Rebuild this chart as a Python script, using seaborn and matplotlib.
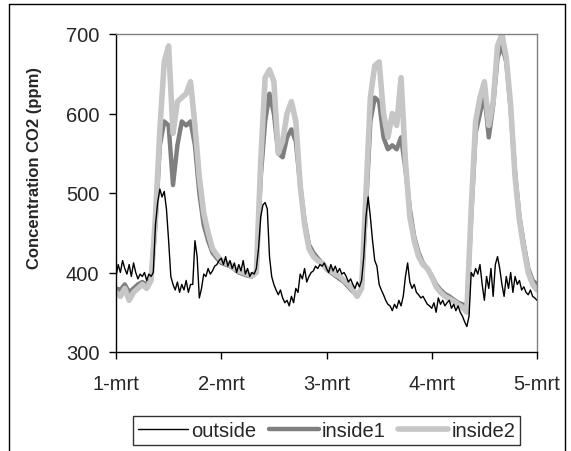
import numpy as np
import pandas as pd
import matplotlib
matplotlib.use("Agg")
import matplotlib.pyplot as plt
import seaborn as sns
from matplotlib.lines import Line2D

# ---- data ----
tick_labels = ["1-mrt", "2-mrt", "3-mrt", "4-mrt", "5-mrt"]
y_ticks = [300, 400, 500, 600, 700]

# hourly values, hour 0 .. 96
inside1 = [380, 378, 385, 375, 380, 385, 388, 385, 392, 460, 560, 590, 585, 510, 560, 590, 585, 590, 560, 500, 460, 440, 425, 418,
           412, 410, 408, 404, 400, 398, 396, 395, 400, 520, 590, 625, 600, 550, 545, 570, 580, 565, 510, 465, 435, 425, 418, 412,
           404, 400, 396, 392, 388, 382, 376, 372, 380, 480, 590, 620, 615, 570, 555, 560, 555, 570, 530, 480, 445, 425, 412, 405,
           396, 385, 378, 373, 370, 366, 362, 360, 355, 470, 575, 600, 625, 570, 610, 670, 685, 665, 605, 525, 470, 435, 405, 390, 385]
inside2 = [375, 370, 380, 365, 375, 380, 385, 380, 390, 470, 580, 665, 685, 575, 615, 620, 625, 640, 585, 520, 475, 450, 430, 422,
           415, 412, 410, 405, 402, 400, 398, 396, 400, 540, 645, 655, 640, 550, 565, 600, 615, 590, 510, 460, 430, 420, 415, 412,
           405, 402, 398, 395, 390, 385, 378, 370, 380, 500, 620, 660, 665, 600, 570, 600, 585, 645, 540, 470, 440, 420, 410, 405,
           395, 382, 375, 370, 367, 364, 360, 356, 350, 480, 590, 620, 640, 585, 615, 685, 700, 670, 610, 520, 465, 430, 400, 385, 378]
# half-hourly values, hour 0 .. 96
outside = [395, 410, 400, 415, 405, 398, 410, 395, 412, 400, 392, 398, 395, 400, 390, 398, 395, 400, 460, 488, 505, 495, 502, 480,
           440, 395, 385, 378, 388, 375, 385, 378, 390, 375, 385, 385, 440, 420, 368, 380, 398, 395, 405, 398, 402, 408, 410, 415,
           418, 410, 420, 408, 415, 405, 412, 400, 410, 402, 415, 398, 405, 395, 400, 398, 405, 430, 470, 485, 488, 480, 420, 395,
           385, 378, 372, 378, 368, 362, 365, 358, 370, 362, 380, 375, 398, 392, 405, 388, 395, 400, 402, 408, 405, 410, 408, 412,
           405, 400, 410, 402, 408, 400, 405, 398, 400, 395, 388, 392, 385, 380, 388, 382, 390, 420, 470, 495, 470, 440, 415, 408,
           385, 378, 372, 365, 360, 358, 352, 360, 355, 365, 358, 370, 395, 412, 388, 380, 385, 375, 372, 368, 370, 365, 360, 358,
           355, 362, 350, 368, 360, 365, 358, 362, 365, 355, 360, 352, 358, 350, 345, 338, 332, 345, 400, 395, 405, 398, 410, 385,
           365, 395, 380, 405, 370, 410, 420, 405, 385, 370, 395, 380, 400, 375, 395, 385, 390, 378, 382, 375, 372, 378, 370, 368, 365]

t_hour = np.arange(len(inside1)) / 24.0
t_half = np.arange(len(outside)) / 48.0

df_in1 = pd.DataFrame({"day": t_hour, "co2": inside1})
df_in2 = pd.DataFrame({"day": t_hour, "co2": inside2})
df_out = pd.DataFrame({"day": t_half, "co2": outside})

# ---- styling ----
sns.set_style("white")
plt.rcParams["font.family"] = ["Liberation Sans", "DejaVu Sans"]

W, H = 571, 452
fig = plt.figure(figsize=(W / 100, H / 100), dpi=100)
ax = fig.add_axes([116 / W, 1 - 353 / H, (537 - 116) / W, (353 - 35) / H])

c_out, c_in1, c_in2 = "#000000", "#7f7f7f", "#c6c6c6"
lw_out, lw_in1, lw_in2 = 1.0, 3.2, 4.0
sns.lineplot(data=df_in1, x="day", y="co2", ax=ax, color=c_in1, linewidth=lw_in1)
sns.lineplot(data=df_in2, x="day", y="co2", ax=ax, color=c_in2, linewidth=lw_in2)
sns.lineplot(data=df_out, x="day", y="co2", ax=ax, color=c_out, linewidth=lw_out)

ax.set_xlim(0, 4)
ax.set_ylim(300, 700)
ax.set_xticks(range(len(tick_labels)))
ax.set_xticklabels(tick_labels)
ax.set_yticks(y_ticks)
ax.set_xlabel("")
ax.set_ylabel("Concentration CO2 (ppm)", fontsize=12, fontweight="bold")
ax.yaxis.set_label_coords((42 - 116) / (537 - 116), (353 - 168) / (353 - 35))
ax.tick_params(axis="both", which="major", labelsize=14.5, length=5, width=1, color="black", direction="out")
ax.tick_params(axis="y", pad=7)
ax.tick_params(axis="x", pad=11)
ax.tick_params(left=True, bottom=True)

for side in ["left", "bottom"]:
    ax.spines[side].set_color("black")
    ax.spines[side].set_linewidth(1.0)
for side in ["top", "right"]:
    ax.spines[side].set_color("#808080")
    ax.spines[side].set_linewidth(1.0)

handles = [Line2D([], [], color=c_out, lw=lw_out),
           Line2D([], [], color=c_in1, lw=lw_in1),
           Line2D([], [], color=c_in2, lw=lw_in2)]
leg = fig.legend(handles, ["outside", "inside1", "inside2"], loc="center",
                 bbox_to_anchor=(326.5 / W, 1 - 431.5 / H), ncol=3, fontsize=14.5,
                 frameon=True, fancybox=False, shadow=False, handlelength=2.5,
                 handletextpad=0.15, columnspacing=0.6, borderpad=0.25,
                 borderaxespad=0)
leg.get_frame().set_edgecolor("black")
leg.get_frame().set_linewidth(1.0)

# outer chart frame
for xs, ys in [([9, 9], [452, 5]), ([9, 565], [5, 5]), ([565, 565], [5, 452])]:
    fig.add_artist(Line2D([x / W for x in xs], [1 - y / H for y in ys],
                          transform=fig.transFigure, color="black", lw=1.0))

fig.savefig("out.png", dpi=100, facecolor="white")
